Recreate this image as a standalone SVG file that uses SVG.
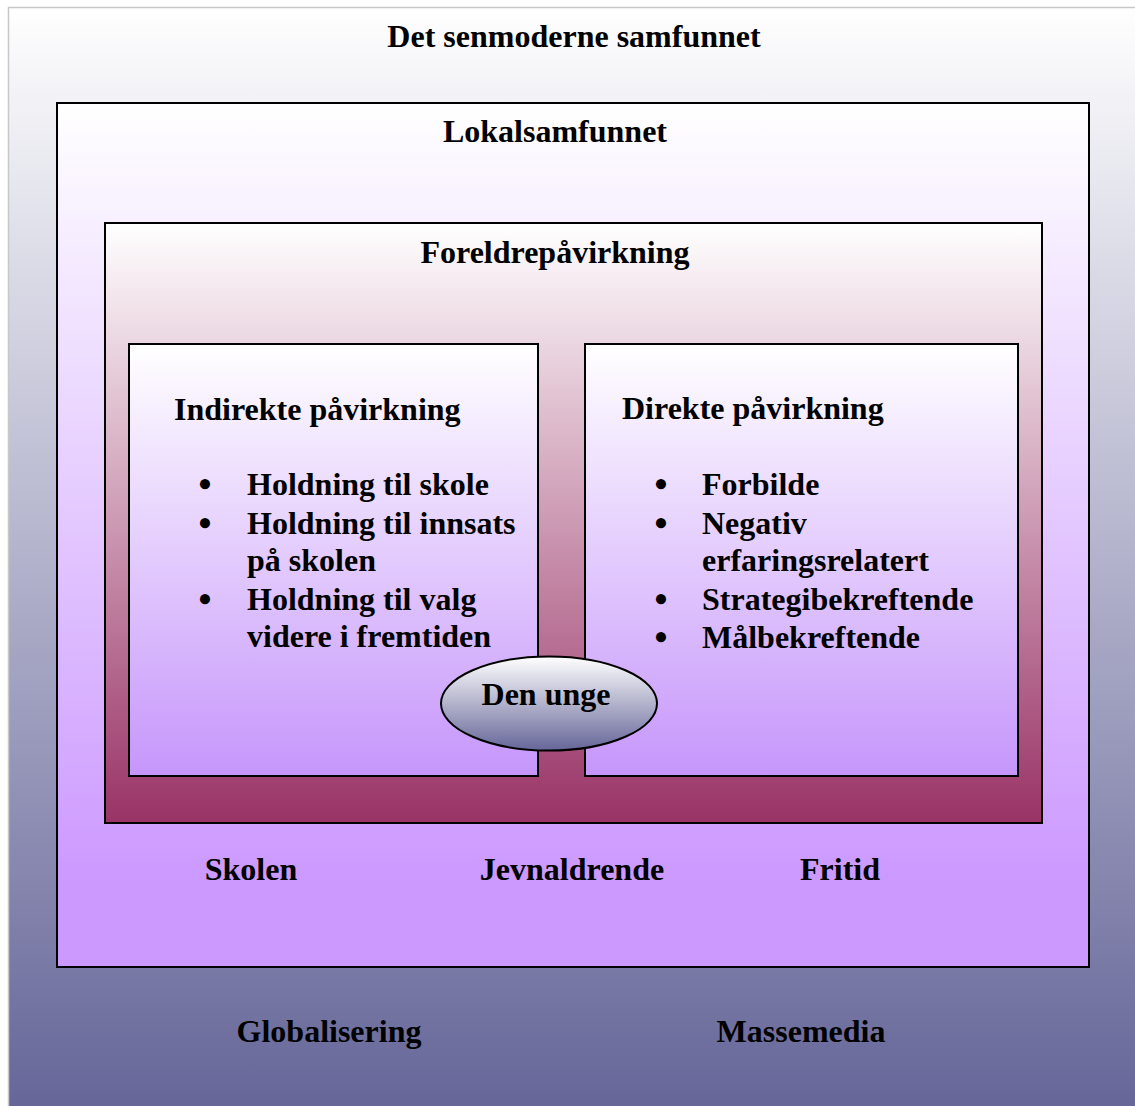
<svg xmlns="http://www.w3.org/2000/svg" width="1135" height="1106" viewBox="0 0 1135 1106">
<defs>
<linearGradient id="gBg" x1="0" y1="0" x2="0" y2="1"><stop offset="0" stop-color="#ffffff"/><stop offset="1" stop-color="#666699"/></linearGradient>
<linearGradient id="gLav" x1="0" y1="0" x2="0" y2="1"><stop offset="0" stop-color="#ffffff"/><stop offset="0.9" stop-color="#cc99ff"/><stop offset="1" stop-color="#cc99ff"/></linearGradient>
<linearGradient id="gBox" x1="0" y1="0" x2="0" y2="1"><stop offset="0" stop-color="#ffffff"/><stop offset="1" stop-color="#c696fb"/></linearGradient>
<linearGradient id="gMar" x1="0" y1="0" x2="0" y2="1"><stop offset="0" stop-color="#ffffff"/><stop offset="1" stop-color="#993366"/></linearGradient>
<linearGradient id="gEll" x1="0" y1="0" x2="0" y2="1"><stop offset="0" stop-color="#ffffff"/><stop offset="1" stop-color="#666699"/></linearGradient>
</defs>
<style>
text{font-family:"Liberation Serif","Times New Roman",serif;font-weight:bold;font-size:32px;fill:#000}
.c{text-anchor:middle}
.b{text-anchor:middle;font-size:37px}
.box{stroke:#000;stroke-width:2}
</style>
<g id="samfunnet">
<rect x="8" y="7" width="1127" height="1099" fill="url(#gBg)"/>
<line x1="8.5" y1="7" x2="8.5" y2="1106" stroke="#c8c8c8" stroke-width="1.5"/>
<line x1="8" y1="7.5" x2="1135" y2="7.5" stroke="#c8c8c8" stroke-width="1.5"/>
<text x="574" y="47" class="c">Det senmoderne samfunnet</text>
<text x="329" y="1042" class="c">Globalisering</text>
<text x="801" y="1042" class="c">Massemedia</text>
</g>
<g id="lokalsamfunnet">
<rect x="57" y="103" width="1032" height="864" fill="url(#gLav)" class="box"/>
<text x="555" y="142" class="c">Lokalsamfunnet</text>
<text x="251" y="880" class="c">Skolen</text>
<text x="572" y="880" class="c">Jevnaldrende</text>
<text x="840" y="880" class="c">Fritid</text>
</g>
<g id="foreldre">
<rect x="105" y="223" width="937" height="600" fill="url(#gMar)" class="box"/>
<text x="555" y="263" class="c">Foreldrepåvirkning</text>
</g>
<g id="indirekte">
<rect x="129" y="344" width="409" height="432" fill="url(#gBox)" class="box"/>
<text x="174" y="420">Indirekte påvirkning</text>
<text x="205" y="497" class="b">•</text><text x="247" y="495">Holdning til skole</text>
<text x="205" y="536" class="b">•</text><text x="247" y="534">Holdning til innsats</text>
<text x="247" y="571">på skolen</text>
<text x="205" y="612" class="b">•</text><text x="247" y="610">Holdning til valg</text>
<text x="247" y="647">videre i fremtiden</text>
</g>
<g id="direkte">
<rect x="585" y="344" width="433" height="432" fill="url(#gBox)" class="box"/>
<text x="622" y="419">Direkte påvirkning</text>
<text x="661" y="497" class="b">•</text><text x="702" y="495">Forbilde</text>
<text x="661" y="536" class="b">•</text><text x="702" y="534">Negativ</text>
<text x="702" y="571">erfaringsrelatert</text>
<text x="661" y="612" class="b">•</text><text x="702" y="610">Strategibekreftende</text>
<text x="661" y="650" class="b">•</text><text x="702" y="648">Målbekreftende</text>
</g>
<g id="den-unge">
<ellipse cx="549" cy="703.5" rx="108" ry="47" fill="url(#gEll)" class="box"/>
<text x="546" y="705" class="c">Den unge</text>
</g>
<g id="connectors"></g>
</svg>
